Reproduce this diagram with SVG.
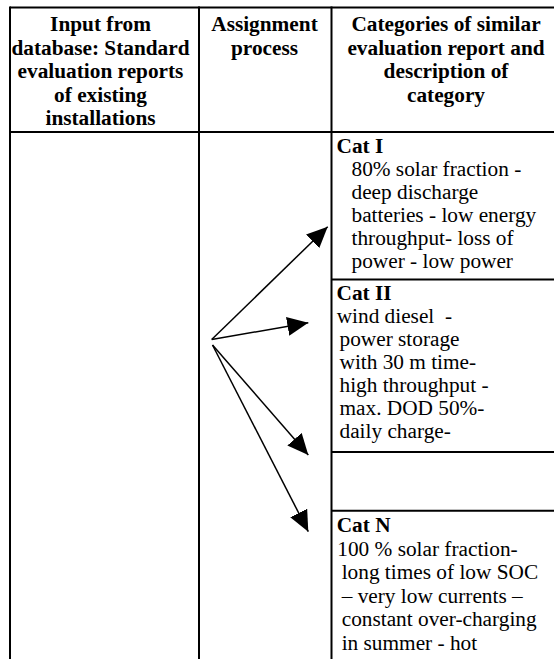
<svg xmlns="http://www.w3.org/2000/svg" width="554" height="659" viewBox="0 0 554 659">
<style>
.grid{stroke:#000;stroke-width:2;fill:none}
.arr{stroke:#000;stroke-width:1.5;fill:none;marker-end:url(#ah)}
.h{font-family:"Liberation Serif","Times New Roman",serif;font-weight:bold;font-size:21.3px;text-anchor:middle;fill:#000}
.b{font-family:"Liberation Serif","Times New Roman",serif;font-weight:bold;font-size:21.3px;fill:#000}
.t{font-family:"Liberation Serif","Times New Roman",serif;font-size:21.3px;fill:#000}
</style>
<defs>
<marker id="ah" markerUnits="userSpaceOnUse" markerWidth="22" markerHeight="20" refX="21" refY="9.5" orient="auto" viewBox="0 0 22 20">
<path d="M0,0 L21,9.5 L0,19 z" fill="#000"/>
</marker>
</defs>
<rect width="554" height="659" fill="#fff"/>
<g id="table">
<line class="grid" x1="10" y1="7.5" x2="554" y2="7.5"/>
<line class="grid" x1="10" y1="6.5" x2="10" y2="659"/>
<line class="grid" x1="199" y1="6.5" x2="199" y2="659"/>
<line class="grid" x1="331.5" y1="6.5" x2="331.5" y2="659"/>
<line class="grid" x1="10" y1="132" x2="554" y2="132"/>
<line class="grid" x1="331.5" y1="279.5" x2="554" y2="279.5"/>
<line class="grid" x1="331.5" y1="452" x2="554" y2="452"/>
<line class="grid" x1="331.5" y1="510.7" x2="554" y2="510.7"/>
</g>
<g id="header-input">
<text class="h" x="100.5" y="31">Input from</text>
<text class="h" x="100.5" y="54.5">database: Standard</text>
<text class="h" x="100.5" y="78">evaluation reports</text>
<text class="h" x="100.5" y="101.5">of existing</text>
<text class="h" x="100.5" y="125">installations</text>
</g>
<g id="header-assignment">
<text class="h" x="264.5" y="31">Assignment</text>
<text class="h" x="264.5" y="54.5">process</text>
</g>
<g id="header-categories">
<text class="h" x="446" y="31">Categories of similar</text>
<text class="h" x="446" y="54.5">evaluation report and</text>
<text class="h" x="446" y="78">description of</text>
<text class="h" x="446" y="101.5">category</text>
</g>
<g id="cat1">
<text class="b" x="336.5" y="153">Cat I</text>
<text class="t" x="351.5" y="176">80% solar fraction -</text>
<text class="t" x="351.5" y="199">deep discharge</text>
<text class="t" x="351.5" y="222" xml:space="preserve">batteries - low energy</text>
<text class="t" x="351.5" y="245">throughput- loss of</text>
<text class="t" x="351.5" y="268">power - low power</text>
</g>
<g id="cat2">
<text class="b" x="336.5" y="299.5">Cat II</text>
<text class="t" x="336.7" y="322.5" xml:space="preserve">wind diesel  -</text>
<text class="t" x="339.5" y="345.5">power storage</text>
<text class="t" x="339.5" y="368.5">with 30 m time-</text>
<text class="t" x="339.5" y="391.5">high throughput -</text>
<text class="t" x="339.5" y="414.5">max. DOD 50%-</text>
<text class="t" x="339.5" y="437.5">daily charge-</text>
</g>
<g id="catN">
<text class="b" x="336.7" y="532">Cat N</text>
<text class="t" x="337.3" y="555.5">100 % solar fraction-</text>
<text class="t" x="341.7" y="579">long times of low SOC</text>
<text class="t" x="341.7" y="602.5">– very low currents –</text>
<text class="t" x="341.7" y="626">constant over-charging</text>
<text class="t" x="341.7" y="649.5">in summer - hot</text>
</g>
<g id="connectors">
<line class="arr" x1="211.7" y1="339.5" x2="327.7" y2="226.7"/>
<line class="arr" x1="211.7" y1="339.5" x2="308.3" y2="322.7"/>
<line class="arr" x1="212.5" y1="345" x2="308.3" y2="455"/>
<line class="arr" x1="212.5" y1="345" x2="308.3" y2="531.7"/>
</g>
</svg>
